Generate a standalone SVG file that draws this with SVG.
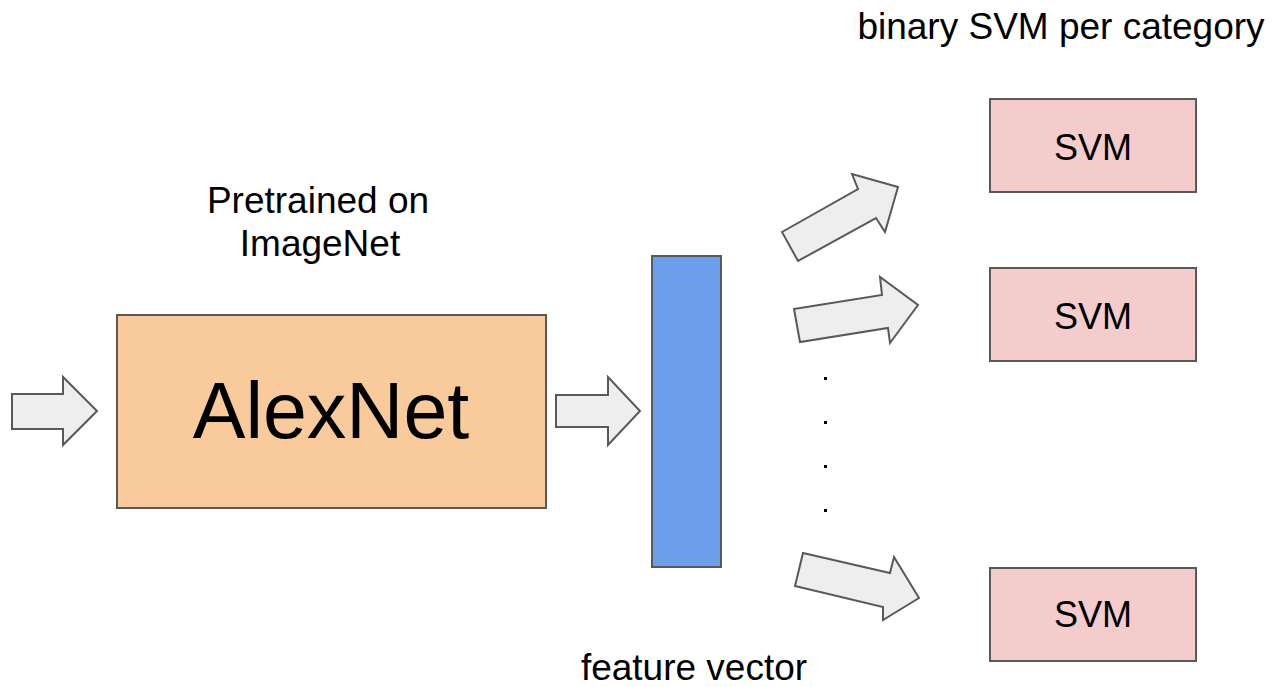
<svg xmlns="http://www.w3.org/2000/svg" width="1272" height="687" viewBox="0 0 1272 687">
  <style>
    .lbl { font-family: "Liberation Sans", Arial, sans-serif; fill: #000; text-anchor: middle; font-size: 37px; }
    .box { stroke: #595959; stroke-width: 2; }
    .arrow { fill: #eeeeee; stroke: #595959; stroke-width: 2; stroke-linejoin: miter; }
    .dot { fill: #000; }
  </style>
  <rect width="1272" height="687" fill="#ffffff"/>

  <!-- titles -->
  <text class="lbl" x="1061" y="39">binary SVM per category</text>
  <text class="lbl" x="318" y="213">Pretrained on</text>
  <text class="lbl" x="320" y="256">ImageNet</text>
  <text class="lbl" x="694" y="680">feature vector</text>

  <!-- network block -->
  <g id="alexnet">
    <rect class="box" x="117" y="315" width="429" height="193" fill="#f9cb9c"/>
    <text class="lbl" x="331" y="438" style="font-size:79px">AlexNet</text>
  </g>

  <!-- feature vector bar -->
  <g id="feature-vector">
    <rect class="box" x="652" y="256" width="69" height="311" fill="#6d9eeb"/>
  </g>

  <!-- per-category classifiers -->
  <g id="svm-1">
    <rect class="box" x="990" y="99" width="206" height="93" fill="#f4cccc"/>
    <text class="lbl" x="1093" y="160" style="font-size:36px">SVM</text>
  </g>
  <g id="svm-2">
    <rect class="box" x="990" y="268" width="206" height="93" fill="#f4cccc"/>
    <text class="lbl" x="1093" y="329" style="font-size:36px">SVM</text>
  </g>
  <g id="svm-n">
    <rect class="box" x="990" y="568" width="206" height="93" fill="#f4cccc"/>
    <text class="lbl" x="1093" y="627" style="font-size:36px">SVM</text>
  </g>

  <!-- block arrows -->
  <g id="connectors">
    <polygon class="arrow" points="12,394 63,394 63,377 97,411 63,445 63,429 12,429"/>
    <polygon class="arrow" points="556,395 608,395 608,377 640,411 608,445 608,427 556,427"/>
    <polygon class="arrow" points="782,232 858,189 852,174 898,187 885,232 876,218 798,261"/>
    <polygon class="arrow" points="794,309 882,295 880,277 918,305 890,343 888,328 800,342"/>
    <polygon class="arrow" points="803,553 890,573 894,557 919,598 883,620 883,607 795,586"/>
  </g>

  <!-- ellipsis between classifiers -->
  <g id="ellipsis">
    <rect class="dot" x="824" y="377" width="3" height="3"/>
    <rect class="dot" x="824" y="421" width="3" height="3"/>
    <rect class="dot" x="824" y="465" width="3" height="3"/>
    <rect class="dot" x="824" y="509" width="3" height="3"/>
  </g>
</svg>
